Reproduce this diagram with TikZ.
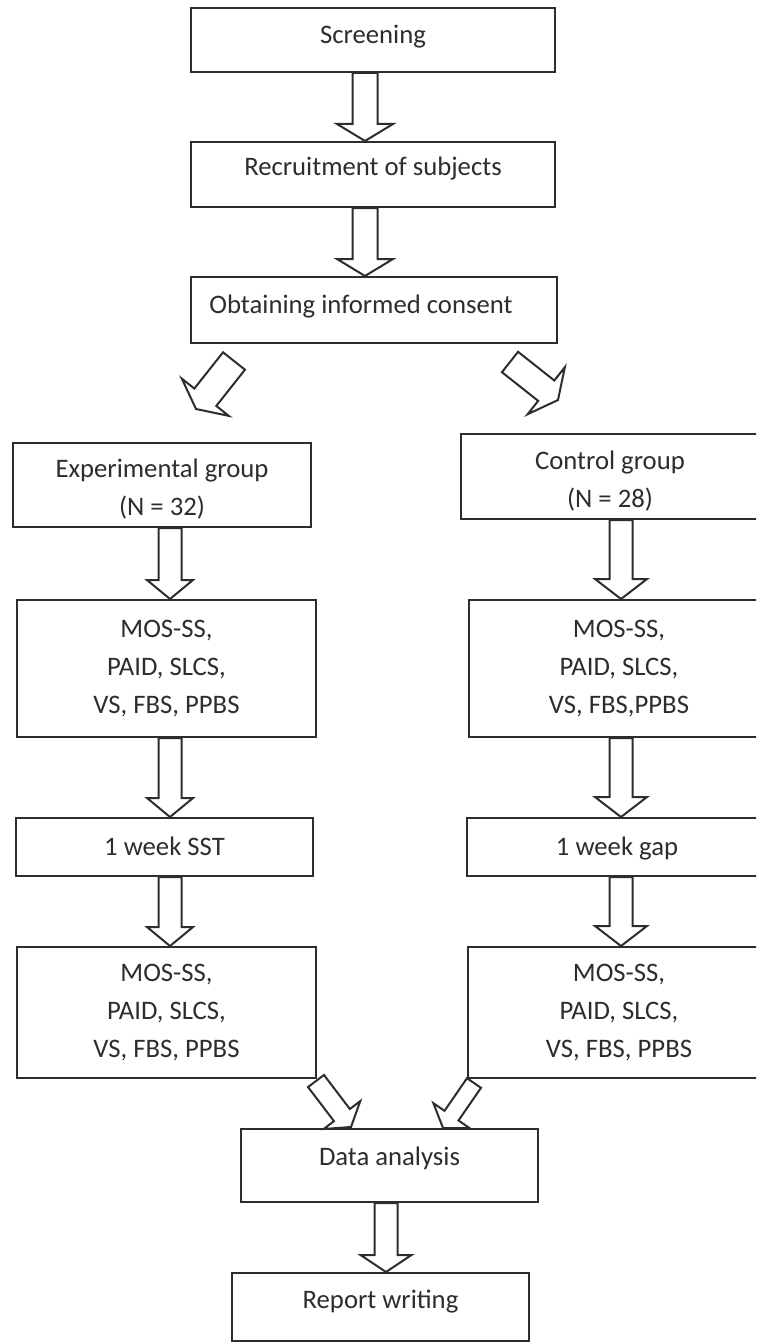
\documentclass[tikz,border=0pt]{standalone}
\usepackage{fontspec}
\setmainfont{Carlito}
\usetikzlibrary{calc}
\definecolor{ink}{RGB}{45,45,45}
\tikzset{
  box/.style={draw=ink, line width=2pt, fill=white, rectangle, inner sep=0pt,
    text=ink, align=center, font=\fontsize{26.7}{38}\selectfont},
  arrowline/.style={draw=ink, line width=2pt, fill=white, line join=miter},
  tb/.style={text height=20pt, text depth=#1},
}
% block arrow: #1 tail, #2 tip, #3 half shaft width, #4 half head width, #5 head length
\newcommand\blockarrow[5]{%
  \coordinate (bahb) at ($(#2)!#5!(#1)$);
  \draw[arrowline] ($(#1)!#3!90:(#2)$) -- ($(bahb)!#3!90:(#2)$) -- ($(bahb)!#4!90:(#2)$)
     -- (#2) -- ($(bahb)!#4!-90:(#2)$) -- ($(bahb)!#3!-90:(#2)$) -- ($(#1)!#3!-90:(#2)$) -- cycle;}

\begin{document}
\begin{tikzpicture}[x=1pt,y=-1pt]
\useasboundingbox (0,0) rectangle (756,1343);
\clip (0,0) rectangle (756,1343);

% boxes
\node[box, minimum width=364pt, minimum height=64pt, tb=12pt] (screen) at (373,40) {Screening};
\node[box, minimum width=364pt, minimum height=65pt, tb=17pt] (recruit) at (373,174.5) {Recruitment of subjects};
\node[box, minimum width=366pt, minimum height=66pt, tb=14pt] (consent) at (374,310) {\hspace*{-26pt}Obtaining informed consent};

\node[box, minimum width=298pt, minimum height=84pt] (exp) at (162,485) {\rule{0pt}{27pt}Experimental group\\(N = 32)};
\node[box, minimum width=298pt, minimum height=85pt] (ctrl) at (610,476.5) {\rule{0pt}{27pt}Control group\\(N = 28)};

\node[box, minimum width=299pt, minimum height=137pt] (mosAl) at (166.5,668.5) {MOS-SS,\\PAID, SLCS,\\VS, FBS, PPBS};
\node[box, minimum width=300pt, minimum height=137pt] (mosAr) at (619,668.5) {MOS-SS,\\PAID, SLCS,\\VS, FBS,PPBS};

\node[box, minimum width=297pt, minimum height=58pt, tb=4pt] (sst) at (164.5,847) {1 week SST};
\node[box, minimum width=300pt, minimum height=58pt, tb=4pt] (gap) at (617,847) {1 week gap};

\node[box, minimum width=299pt, minimum height=131pt] (mosBl) at (166.5,1012.5) {MOS-SS,\\PAID, SLCS,\\VS, FBS, PPBS};
\node[box, minimum width=302pt, minimum height=131pt] (mosBr) at (619,1012.5) {MOS-SS,\\PAID, SLCS,\\VS, FBS, PPBS};

\node[box, minimum width=297pt, minimum height=73pt, tb=20pt] (data) at (389.5,1165.5) {Data analysis};
\node[box, minimum width=297pt, minimum height=68pt, tb=18pt] (report) at (380.5,1307) {Report writing};

% vertical arrows
\coordinate (a1t) at (365,0 |- screen.south);
\coordinate (a1h) at (365,0 |- recruit.north);
\blockarrow{a1t}{a1h}{12.5pt}{28pt}{17pt}
\coordinate (a2t) at (365,0 |- recruit.south);
\coordinate (a2h) at (365,0 |- consent.north);
\blockarrow{a2t}{a2h}{12.5pt}{28pt}{17pt}

\coordinate (l1t) at (170,0 |- exp.south);
\coordinate (l1h) at (170,0 |- mosAl.north);
\blockarrow{l1t}{l1h}{11.5pt}{23pt}{19pt}
\coordinate (l2t) at (170,0 |- mosAl.south);
\coordinate (l2h) at (170,0 |- sst.north);
\blockarrow{l2t}{l2h}{11.5pt}{23pt}{19pt}
\coordinate (l3t) at (170,0 |- sst.south);
\coordinate (l3h) at (170,0 |- mosBl.north);
\blockarrow{l3t}{l3h}{11.5pt}{23pt}{19pt}

\coordinate (r1t) at (621,0 |- ctrl.south);
\coordinate (r1h) at (621,0 |- mosAr.north);
\blockarrow{r1t}{r1h}{11.5pt}{26pt}{20pt}
\coordinate (r2t) at (621,0 |- mosAr.south);
\coordinate (r2h) at (621,0 |- gap.north);
\blockarrow{r2t}{r2h}{11.5pt}{26pt}{20pt}
\coordinate (r3t) at (621,0 |- gap.south);
\coordinate (r3h) at (621,0 |- mosBr.north);
\blockarrow{r3t}{r3h}{11.5pt}{26pt}{20pt}

\coordinate (dvt) at (386,0 |- data.south);
\coordinate (dvh) at (386,0 |- report.north);
\blockarrow{dvt}{dvh}{11.5pt}{25.5pt}{17pt}

% diagonal arrows
\coordinate (d1t) at (234,361);
\coordinate (d1h) at (196,409);
\blockarrow{d1t}{d1h}{14pt}{30pt}{15pt}
\coordinate (d2t) at (510,362);
\coordinate (d2h) at (558,400);
\blockarrow{d2t}{d2h}{13pt}{30pt}{15pt}
\coordinate (d3t) at (316,1081);
\coordinate (d3h) at (351,1127);
\blockarrow{d3t}{d3h}{10pt}{23pt}{15pt}
\coordinate (d4t) at (474,1083);
\coordinate (d4h) at (443,1128);
\blockarrow{d4t}{d4h}{8.5pt}{22pt}{15pt}
\end{tikzpicture}
\end{document}
